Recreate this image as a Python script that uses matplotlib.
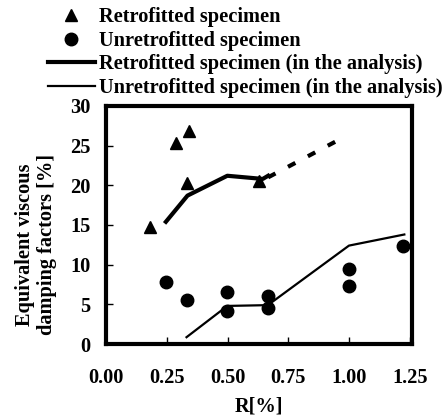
# -*- coding: utf-8 -*-
"""
Equivalent viscous damping factor vs drift ratio R, test and analysis.
"""
import matplotlib
matplotlib.use("Agg")
import matplotlib.pyplot as plt

# Test results ================================================================
retro_R = [0.18, 0.287, 0.342, 0.332, 0.631]
retro_h = [14.8, 25.3, 26.8, 20.3, 20.5]

unretro_R = [0.248, 0.331, 0.499, 0.499, 0.666, 0.666, 1.0, 1.0, 1.224]
unretro_h = [7.8, 5.6, 6.6, 4.1, 6.1, 4.5, 9.4, 7.3, 12.4]

# Analysis results ============================================================
ana_retro_R = [0.246, 0.335, 0.499, 0.645, 0.667]
ana_retro_h = [15.4, 18.7, 21.2, 20.8, 21.2]
ana_retro_ext_R = [0.667, 0.969]      # extrapolated part (dashed)
ana_retro_ext_h = [21.0, 25.9]

ana_unretro_R = [0.331, 0.499, 0.666, 1.0, 1.228]
ana_unretro_h = [0.86, 4.8, 4.9, 12.4, 13.8]

xticks = [0.0, 0.25, 0.5, 0.75, 1.0, 1.25]
yticks = [0, 5, 10, 15, 20, 25, 30]

# Plot ========================================================================
plt.rcParams.update({'font.family': 'Liberation Serif', 'font.weight': 'bold',
                     'axes.labelweight': 'bold',
                     'font.size': 14.7, 'axes.linewidth': 3})

fig = plt.figure(figsize=(4.46, 4.17), dpi=100)
ax = fig.add_axes([0.238, 0.175, 0.686, 0.571])

tri, = ax.plot(retro_R, retro_h, '^', color='k', ms=9, ls='none')
cir, = ax.plot(unretro_R, unretro_h, 'o', color='k', ms=9, ls='none')
thick, = ax.plot(ana_retro_R, ana_retro_h, '-', color='k', lw=3)
ax.plot(ana_retro_ext_R, ana_retro_ext_h, color='k', lw=3, dashes=(2, 3.4))
thin, = ax.plot(ana_unretro_R, ana_unretro_h, '-', color='k', lw=1.6)

ax.set_xlim(0, 1.26)
ax.set_ylim(0, 30)
ax.set_xticks(xticks)
ax.set_yticks(yticks)
ax.set_xticklabels(['%.2f' % v for v in xticks])
ax.tick_params(direction='in', length=5, width=1)
ax.tick_params(axis='x', pad=17.5)
ax.tick_params(axis='y', pad=11.5)

ax.set_xlabel('R[%]', labelpad=6)
fig.text(0.08, 0.413, 'Equivalent viscous\ndamping factors [%]',
         rotation=90, ha='center', va='center', linespacing=1.15)

fig.legend([tri, cir, thick, thin],
           ['Retrofitted specimen', 'Unretrofitted specimen',
            'Retrofitted specimen (in the analysis)',
            'Unretrofitted specimen (in the analysis)'],
           loc='upper left', bbox_to_anchor=(48/446, 1 - 7/417),
           frameon=False, borderpad=0, borderaxespad=0, numpoints=1,
           handlelength=2.3, handletextpad=0.2, labelspacing=0.18)

fig.savefig('out.png', dpi=100)
